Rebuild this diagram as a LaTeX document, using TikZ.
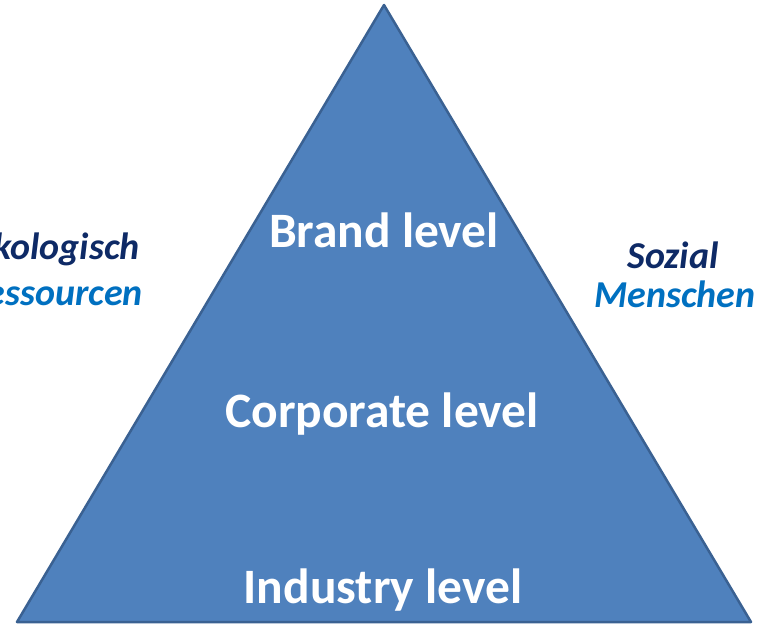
\documentclass[tikz,border=0pt]{standalone}
\usepackage{fontspec}
\setmainfont{Carlito}
\definecolor{pyrfill}{HTML}{4F81BD}
\definecolor{pyredge}{HTML}{3A6192}
\definecolor{navy}{HTML}{0E2A66}
\definecolor{lightblue}{HTML}{0070C0}
\tikzset{
  level/.style={text=white, font=\fontsize{49.5}{59}\selectfont\bfseries, inner sep=0, anchor=base},
  side/.style={font=\fontsize{38}{45}\selectfont\bfseries\itshape, inner sep=0}
}

\begin{document}
\begin{tikzpicture}[x=1pt, y=-1pt]
  \useasboundingbox (0,0) rectangle (761,626);
  \clip (0,0) rectangle (761,626);
  \coordinate (apex) at (384,5);
  \coordinate (baseleft) at (17,622);
  \coordinate (baseright) at (751,622);
  \filldraw[fill=pyrfill, draw=pyredge, line width=2.5, line join=round] (apex) -- (baseright) -- (baseleft) -- cycle;
  \node[level] (brand) at (384,247) {Brand level};
  \node[level] (corporate) at (382,427) {Corporate level};
  \node[level] (industry) at (383,603) {Industry level};
  \node[side, navy, anchor=base east] (oeko) at (140,259) {Ökologisch};
  \node[side, lightblue, anchor=base east] (ressourcen) at (143,305) {Ressourcen};
  \node[side, navy, anchor=base] (sozial) at (673,268) {Sozial};
  \node[side, lightblue, anchor=base] (menschen) at (675,307) {Menschen};
\end{tikzpicture}
\end{document}
